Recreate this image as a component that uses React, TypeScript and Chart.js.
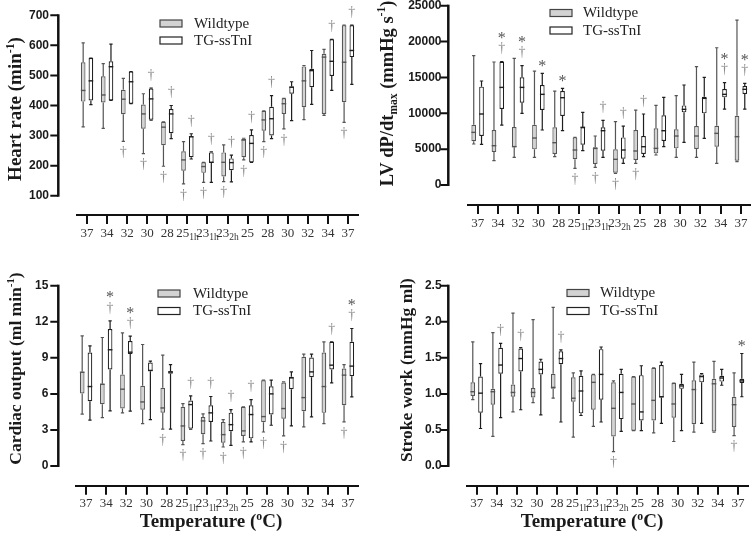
import React, { useEffect, useRef } from 'react';
import { Chart, registerables } from 'chart.js';
Chart.register(...registerables);

type Box = [number, number, number, number, number]; // min, q1, median, q3, max

const categories = ['37', '34', '32', '30', '28', '25', '23', '23', '25', '28', '30', '32', '34', '37'];
const categorySubs = ['', '', '', '', '', '1h', '1h', '2h', '', '', '', '', '', ''];
const seriesNames = ['Wildtype', 'TG-ssTnI'];

// Heart rate (min-1)
const heartRateTicks = [100, 200, 300, 400, 500, 600, 700];
const heartRateWildtype: Box[] = [
  [329, 413, 450, 544, 608], [324, 410, 435, 497, 539], [281, 371, 421, 452, 490], [240, 323, 372, 403, 439],
  [198, 268, 328, 346, 346], [139, 183, 219, 248, 280], [144, 176, 197, 211, 211], [147, 164, 211, 244, 269],
  [219, 228, 285, 289, 291], [280, 316, 352, 382, 382], [322, 372, 406, 424, 424], [353, 394, 482, 530, 533],
  [367, 372, 561, 572, 587], [344, 411, 544, 667, 667],
];
const heartRateTG: Box[] = [
  [403, 417, 482, 558, 558], [417, 417, 529, 547, 604], [406, 406, 479, 513, 513], [351, 353, 422, 456, 458],
  [290, 308, 372, 388, 400], [222, 228, 296, 298, 306], [144, 209, 211, 244, 246], [146, 185, 210, 224, 235],
  [211, 211, 274, 302, 319], [290, 300, 356, 396, 433], [350, 439, 461, 463, 479], [404, 461, 516, 522, 583],
  [450, 498, 547, 620, 620], [470, 561, 583, 667, 667],
];
const heartRateTGMarks = ['', '', '', '†', '†', '†', '†', '†', '†', '†', '', '', '†', '†'];
const heartRateWTMarks = ['', '', '†', '†', '†', '†', '†', '†', '†', '†', '†', '', '', '†'];

// LV dP/dt max (mmHg s-1)
const dpdtTicks = [0, 5000, 10000, 15000, 20000, 25000];
const dpdtWildtype: Box[] = [
  [5715, 6090, 7340, 8410, 18030], [3390, 4600, 5480, 7670, 17150], [3860, 5250, 5350, 8090, 17660],
  [3860, 4970, 6550, 8410, 15890], [3950, 4320, 5900, 8040, 13100], [2320, 3580, 4880, 6640, 6640],
  [2460, 2930, 5100, 5250, 6830], [1630, 1720, 3580, 4970, 8830], [3020, 3480, 4740, 7670, 10450],
  [4180, 4410, 5110, 7900, 11100], [3860, 5110, 6830, 7760, 12450], [3860, 5020, 6830, 8220, 16500],
  [3020, 5340, 7200, 8270, 19140], [3250, 3390, 6740, 9660, 23000],
];
const dpdtTG: Box[] = [
  [5670, 6830, 9900, 13710, 14500], [8360, 10590, 13610, 17190, 17190], [9990, 11480, 13610, 15010, 16640],
  [7670, 10450, 12640, 13940, 15570], [7570, 9620, 12170, 13100, 13480], [4790, 5620, 8040, 8040, 10130],
  [3860, 4790, 7570, 8040, 9010], [3020, 3670, 4880, 6640, 8220], [3950, 4320, 5340, 6830, 9900],
  [5340, 6130, 7570, 9710, 12220], [5950, 10130, 10550, 11100, 13940], [6500, 9990, 12080, 12310, 15010],
  [10590, 12220, 12640, 13380, 14270], [10590, 12690, 13340, 13800, 14170],
];
const dpdtTGMarks = ['', '*†', '*†', '*', '*', '', '†', '†', '†', '', '', '', '*†', '*†'];
const dpdtWTMarks = ['', '', '', '', '', '†', '†', '†', '†', '', '', '', '', ''];

// Cardiac output (ml min-1)
const outputTicks = [0, 3, 6, 9, 12, 15];
const outputWildtype: Box[] = [
  [4.31, 6.03, 7.8, 7.85, 10.83], [4.03, 5.14, 6.8, 6.85, 10.69], [4.42, 4.78, 6.39, 7.61, 11.08],
  [3.53, 4.69, 5.33, 6.67, 10.11], [3.06, 4.44, 4.83, 6.5, 9.22], [1.78, 2.08, 3.33, 4.92, 5.19],
  [1.86, 2.64, 3.75, 4.08, 4.33], [1.58, 1.94, 2.61, 3.67, 3.86], [2.0, 2.5, 2.92, 4.92, 4.92],
  [2.83, 3.64, 4.11, 7.14, 7.14], [2.5, 3.94, 4.78, 6.94, 7.0], [3.25, 4.56, 5.69, 9.08, 9.31],
  [3.53, 4.42, 6.61, 9.44, 10.33], [3.67, 5.06, 7.56, 8.11, 8.44],
];
const outputTG: Box[] = [
  [3.81, 5.39, 6.61, 9.44, 10.0], [4.58, 8.03, 9.67, 11.39, 12.08], [4.56, 9.31, 9.47, 10.39, 10.81],
  [3.86, 7.89, 7.95, 8.61, 8.72], [3.06, 7.67, 7.83, 7.89, 8.44], [3.06, 3.11, 5.11, 5.44, 5.83],
  [2.08, 3.67, 4.42, 5.06, 5.78], [1.72, 2.89, 3.44, 4.44, 4.69], [2.0, 2.3, 4.28, 5.06, 5.53],
  [3.39, 4.28, 6.0, 6.64, 7.14], [3.33, 6.39, 7.33, 7.42, 7.83], [4.08, 7.39, 7.83, 9.03, 9.31],
  [6.92, 8.03, 8.39, 10.33, 10.33], [5.75, 7.47, 8.31, 10.33, 11.44],
];
const outputTGMarks = ['', '*†', '*†', '', '', '†', '†', '†', '†', '', '', '', '†', '*†'];
const outputWTMarks = ['', '', '', '', '†', '†', '†', '†', '†', '†', '†', '', '', '†'];

// Stroke work (mmHg ml)
const strokeTicks = [0, 0.5, 1, 1.5, 2, 2.5];
const strokeWildtype: Box[] = [
  [0.92, 0.97, 1.03, 1.16, 1.72], [0.41, 0.85, 1.03, 1.07, 1.85], [0.75, 0.96, 1.02, 1.13, 2.12],
  [0.88, 0.95, 1.02, 1.08, 2.03], [0.94, 1.07, 1.09, 1.28, 2.2], [0.4, 0.89, 0.94, 1.23, 1.29],
  [0.55, 0.78, 1.16, 1.27, 1.27], [0.2, 0.41, 0.8, 1.16, 1.18], [0.49, 0.49, 0.86, 1.24, 1.24],
  [0.46, 0.63, 0.91, 1.36, 1.36], [0.34, 0.67, 0.86, 1.15, 1.15], [0.47, 0.58, 1.06, 1.19, 1.44],
  [0.47, 0.48, 1.14, 1.21, 1.45], [0.42, 0.54, 0.85, 0.96, 1.29],
];
const strokeTG: Box[] = [
  [0.52, 0.74, 1.01, 1.24, 1.42], [0.67, 1.28, 1.4, 1.64, 1.7], [0.78, 1.31, 1.49, 1.63, 1.64],
  [0.71, 1.27, 1.34, 1.45, 1.48], [0.61, 1.41, 1.49, 1.59, 1.61], [0.7, 0.73, 1.04, 1.25, 1.32],
  [0.61, 0.92, 1.27, 1.62, 1.65], [0.48, 0.65, 1.02, 1.28, 1.34], [0.49, 0.63, 0.75, 1.26, 1.39],
  [0.59, 0.95, 0.96, 1.4, 1.44], [0.49, 1.07, 1.11, 1.14, 1.27], [0.59, 1.16, 1.24, 1.27, 1.28],
  [1.12, 1.17, 1.22, 1.25, 1.34], [0.96, 1.15, 1.18, 1.21, 1.56],
];
const strokeTGMarks = ['', '†', '†', '', '†', '', '', '', '', '', '', '', '', '*'];
const strokeWTMarks = ['', '', '', '', '', '', '', '†', '', '', '', '', '', '†'];

const SERIF = "'Liberation Serif', 'Times New Roman', serif";
const SANS = "'Liberation Sans', Arial, sans-serif";

interface Part { t: string; s?: 'sup' | 'sub' }
interface PanelCfg {
  pos: { left: number; top: number; width: number; height: number };
  area: { left: number; right: number; top: number; bottom: number; lowTickPx: number };
  ticks: number[];
  decimals: number;
  axisX: number;
  labelPad: number;
  wt: Box[];
  tg: Box[];
  tgMarks: string[];
  wtMarks: string[];
  yTitle: Part[];
  yTitlePos: [number, number];
  yTitleSize: number;
  xTitle?: Part[];
  xTitlePos?: [number, number];
  legend: { x: number; y1: number; y2: number; textX: number };
}

const xTitleParts: Part[] = [{ t: 'Temperature (' }, { t: 'o', s: 'sup' }, { t: 'C)' }];

const panels: PanelCfg[] = [
  {
    pos: { left: 0, top: 0, width: 375, height: 268 },
    area: { left: 77, right: 358, top: 15.3, bottom: 215, lowTickPx: 195.7 },
    ticks: heartRateTicks, decimals: 0, axisX: 58.3, labelPad: 28,
    wt: heartRateWildtype, tg: heartRateTG, tgMarks: heartRateTGMarks, wtMarks: heartRateWTMarks,
    yTitle: [{ t: 'Heart rate (min' }, { t: '-1', s: 'sup' }, { t: ')' }],
    yTitlePos: [15, 109], yTitleSize: 19,
    legend: { x: 160, y1: 20, y2: 37, textX: 194 },
  },
  {
    pos: { left: 375, top: 0, width: 376, height: 268 },
    area: { left: 92.5, right: 376, top: 5.7, bottom: 205, lowTickPx: 185 },
    ticks: dpdtTicks, decimals: 0, axisX: 73.3, labelPad: 26,
    wt: dpdtWildtype, tg: dpdtTG, tgMarks: dpdtTGMarks, wtMarks: dpdtWTMarks,
    yTitle: [{ t: 'LV dP/dt' }, { t: 'max', s: 'sub' }, { t: ' (mmHg s' }, { t: '-1', s: 'sup' }, { t: ')' }],
    yTitlePos: [11.5, 93.5], yTitleSize: 18.5,
    legend: { x: 175, y1: 9.5, y2: 27, textX: 208 },
  },
  {
    pos: { left: 0, top: 268, width: 375, height: 269 },
    area: { left: 76, right: 358, top: 17.7, bottom: 217.7, lowTickPx: 198 },
    ticks: outputTicks, decimals: 0, axisX: 58.3, labelPad: 27.7,
    wt: outputWildtype, tg: outputTG, tgMarks: outputTGMarks, wtMarks: outputWTMarks,
    yTitle: [{ t: 'Cardiac output (ml min' }, { t: '-1', s: 'sup' }, { t: ')' }],
    yTitlePos: [15, 100.5], yTitleSize: 17.5,
    xTitle: xTitleParts, xTitlePos: [211, 253],
    legend: { x: 158, y1: 22, y2: 39.5, textX: 193 },
  },
  {
    pos: { left: 375, top: 268, width: 376, height: 269 },
    area: { left: 91.6, right: 373, top: 17.7, bottom: 217.7, lowTickPx: 198 },
    ticks: strokeTicks, decimals: 1, axisX: 73.3, labelPad: 25,
    wt: strokeWildtype, tg: strokeTG, tgMarks: strokeTGMarks, wtMarks: strokeWTMarks,
    yTitle: [{ t: 'Stroke work (mmHg ml)' }],
    yTitlePos: [31, 102], yTitleSize: 17.5,
    xTitle: xTitleParts, xTitlePos: [217, 253],
    legend: { x: 192, y1: 21.5, y2: 39.5, textX: 225 },
  },
];

function drawRich(
  ctx: CanvasRenderingContext2D, parts: Part[], cx: number, cy: number,
  size: number, rotate: boolean, weight: string, family: string, color: string,
) {
  ctx.save();
  ctx.translate(cx, cy);
  if (rotate) ctx.rotate(-Math.PI / 2);
  const small = size * 0.62;
  const fontFor = (p: Part) => `${weight} ${p.s ? small : size}px ${family}`;
  let w = 0;
  parts.forEach((p) => { ctx.font = fontFor(p); w += ctx.measureText(p.t).width; });
  let x = -w / 2;
  ctx.textAlign = 'left';
  ctx.textBaseline = 'alphabetic';
  ctx.fillStyle = color;
  const base = size * 0.34;
  parts.forEach((p) => {
    ctx.font = fontFor(p);
    const dy = p.s === 'sup' ? -size * 0.4 : p.s === 'sub' ? size * 0.25 : 0;
    ctx.fillText(p.t, x, base + dy);
    x += ctx.measureText(p.t).width;
  });
  ctx.restore();
}

function Panel({ cfg }: { cfg: PanelCfg }) {
  const ref = useRef<HTMLCanvasElement>(null);
  useEffect(() => {
    const canvas = ref.current;
    if (!canvas) return;
    const { area, pos, ticks } = cfg;
    const lo = ticks[0];
    const hi = ticks[ticks.length - 1];
    const yMin = lo - (area.bottom - area.lowTickPx) * (hi - lo) / (area.lowTickPx - area.top);

    const extras = {
      id: 'boxExtras',
      afterDatasetsDraw(chart: any) {
        const ctx: CanvasRenderingContext2D = chart.ctx;
        const y = chart.scales.y;
        [cfg.wt, cfg.tg].forEach((boxes, di) => {
          const meta = chart.getDatasetMeta(di);
          const color = di === 0 ? '#555' : '#1e1e1e';
          boxes.forEach((b, j) => {
            const el = meta.data[j];
            const { x, width } = el.getProps(['x', 'width'], true);
            const pMin = y.getPixelForValue(b[0]);
            const pQ1 = y.getPixelForValue(b[1]);
            const pMed = y.getPixelForValue(b[2]);
            const pQ3 = y.getPixelForValue(b[3]);
            const pMax = y.getPixelForValue(b[4]);
            ctx.save();
            ctx.strokeStyle = color;
            ctx.lineWidth = 1.2;
            ctx.beginPath();
            ctx.moveTo(x, pQ3); ctx.lineTo(x, pMax);
            ctx.moveTo(x, pQ1); ctx.lineTo(x, pMin);
            const cap = width * 0.35;
            ctx.moveTo(x - cap, pMax); ctx.lineTo(x + cap, pMax);
            ctx.moveTo(x - cap, pMin); ctx.lineTo(x + cap, pMin);
            ctx.stroke();
            ctx.lineWidth = 1.4;
            ctx.beginPath();
            ctx.moveTo(x - width / 2, pMed); ctx.lineTo(x + width / 2, pMed);
            ctx.stroke();
            ctx.restore();

            const mark = di === 1 ? cfg.tgMarks[j] : cfg.wtMarks[j];
            if (!mark) return;
            ctx.save();
            ctx.textAlign = 'center';
            ctx.textBaseline = 'alphabetic';
            const hasDagger = mark.includes('†');
            const hasStar = mark.includes('*');
            if (di === 1) {
              if (hasDagger) {
                ctx.font = `14px ${SERIF}`;
                ctx.fillStyle = '#8a8a8a';
                const c = pMax - 13;
                ctx.fillText('†', x, c + 14 * 0.27);
              }
              if (hasStar) {
                ctx.font = `16px ${SERIF}`;
                ctx.fillStyle = '#555';
                const c = pMax - (hasDagger ? 26 : 10);
                ctx.fillText('*', x, c + 16 * 0.48);
              }
            } else if (hasDagger) {
              ctx.font = `14px ${SERIF}`;
              ctx.fillStyle = '#8a8a8a';
              const c = pMin + 11;
              ctx.fillText('†', x, c + 14 * 0.27);
            }
            ctx.restore();
          });
        });
      },
      afterDraw(chart: any) {
        const ctx: CanvasRenderingContext2D = chart.ctx;
        const y = chart.scales.y;
        const xs = chart.scales.x;
        // y axis line with tick marks
        ctx.save();
        ctx.strokeStyle = '#111';
        ctx.lineWidth = 2.5;
        ctx.beginPath();
        ctx.moveTo(cfg.axisX, y.getPixelForValue(lo) + 1);
        ctx.lineTo(cfg.axisX, y.getPixelForValue(hi) - 1);
        ctx.stroke();
        ctx.lineWidth = 2;
        ctx.beginPath();
        ticks.forEach((v) => {
          const p = y.getPixelForValue(v);
          ctx.moveTo(cfg.axisX - 8, p);
          ctx.lineTo(cfg.axisX, p);
        });
        ctx.stroke();
        ctx.restore();

        // x tick labels with subscripts
        ctx.save();
        ctx.fillStyle = '#333';
        ctx.textBaseline = 'alphabetic';
        ctx.textAlign = 'left';
        const baseY = chart.chartArea.bottom + 17 + 4.5;
        categories.forEach((c, i) => {
          const px = xs.getPixelForTick(i);
          ctx.font = `13px ${SERIF}`;
          const w1 = ctx.measureText(c).width;
          const sub = categorySubs[i];
          ctx.font = `9.5px ${SERIF}`;
          const w2 = sub ? ctx.measureText(sub).width : 0;
          const start = px - (w1 + w2) / 2;
          ctx.font = `13px ${SERIF}`;
          ctx.fillText(c, start, baseY);
          if (sub) {
            ctx.font = `9.5px ${SERIF}`;
            ctx.fillText(sub, start + w1, baseY + 3.5);
          }
        });
        ctx.restore();

        // titles
        drawRich(ctx, cfg.yTitle, cfg.yTitlePos[0], cfg.yTitlePos[1], cfg.yTitleSize, true, 'bold', SERIF, '#1a1a1a');
        if (cfg.xTitle && cfg.xTitlePos) {
          drawRich(ctx, cfg.xTitle, cfg.xTitlePos[0], cfg.xTitlePos[1], 19, false, 'bold', SERIF, '#1a1a1a');
        }

        // legend
        const lg = cfg.legend;
        const ds = chart.data.datasets;
        [lg.y1, lg.y2].forEach((ly, k) => {
          ctx.save();
          ctx.fillStyle = ds[k].backgroundColor;
          ctx.strokeStyle = k === 0 ? '#444' : '#222';
          ctx.lineWidth = 1.2;
          ctx.fillRect(lg.x, ly, 22, 7);
          ctx.strokeRect(lg.x, ly, 22, 7);
          ctx.fillStyle = '#222';
          ctx.font = `15px ${SERIF}`;
          ctx.textBaseline = 'middle';
          ctx.textAlign = 'left';
          ctx.fillText(ds[k].label, lg.textX, ly + 4);
          ctx.restore();
        });
      },
    };

    const chart = new Chart(canvas, {
      type: 'bar',
      data: {
        labels: categories.map((c, i) => c + categorySubs[i]),
        datasets: [
          {
            label: seriesNames[0],
            data: cfg.wt.map((b) => [b[1], b[3]]) as any,
            backgroundColor: '#d3d3d3',
            borderColor: '#555',
            borderWidth: 1.2,
            borderSkipped: false,
            categoryPercentage: 0.77,
            barPercentage: 0.6,
          },
          {
            label: seriesNames[1],
            data: cfg.tg.map((b) => [b[1], b[3]]) as any,
            backgroundColor: '#ffffff',
            borderColor: '#1e1e1e',
            borderWidth: 1.2,
            borderSkipped: false,
            categoryPercentage: 0.77,
            barPercentage: 0.6,
          },
        ],
      },
      options: {
        animation: false,
        responsive: false,
        maintainAspectRatio: false,
        devicePixelRatio: 1,
        layout: { padding: { left: 0, top: area.top, right: pos.width - area.right, bottom: 0 } },
        plugins: { legend: { display: false }, tooltip: { enabled: false }, title: { display: false } },
        scales: {
          x: {
            type: 'category',
            offset: true,
            grid: {
              display: true, drawOnChartArea: false, offset: false, drawTicks: true,
              tickLength: 9, color: '#111', lineWidth: 2,
            },
            border: { display: true, color: '#111', width: 2 },
            ticks: { display: false },
            afterFit: (s: any) => {
              s.height = pos.height - area.bottom;
              s.paddingLeft = 0; s.paddingRight = 0;
            },
          },
          y: {
            type: 'linear',
            min: yMin,
            max: hi,
            grid: { display: false, drawTicks: false },
            border: { display: false },
            afterBuildTicks: (s: any) => { s.ticks = ticks.map((v) => ({ value: v })); },
            ticks: {
              padding: cfg.labelPad,
              color: '#1a1a1a',
              font: { family: SANS, size: 12, weight: 'bold' },
              callback: (v: any) => Number(v).toFixed(cfg.decimals),
            },
            afterFit: (s: any) => {
              s.width = area.left;
              s.paddingTop = 0; s.paddingBottom = 0;
            },
          },
        },
      },
      plugins: [extras],
    } as any);
    return () => chart.destroy();
  }, [cfg]);
  return (
    <canvas
      ref={ref}
      width={cfg.pos.width}
      height={cfg.pos.height}
      style={{ position: 'absolute', left: cfg.pos.left, top: cfg.pos.top, width: cfg.pos.width, height: cfg.pos.height }}
    />
  );
}

export default function App() {
  return (
    <div style={{ position: 'fixed', left: 0, top: 0, width: 751, height: 537, background: '#fff', overflow: 'hidden' }}>
      {panels.map((p, i) => <Panel key={i} cfg={p} />)}
    </div>
  );
}
